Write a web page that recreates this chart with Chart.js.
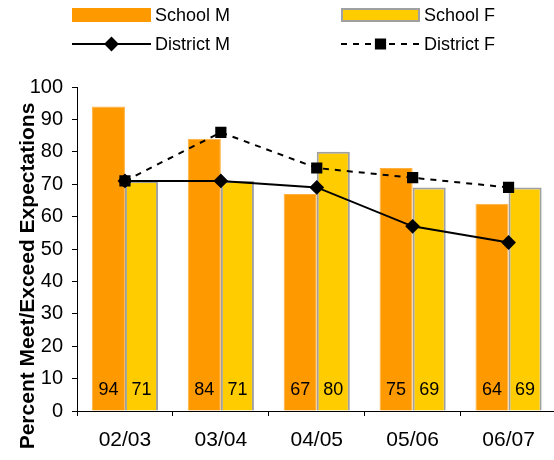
<!DOCTYPE html>
<html>
<head>
<meta charset="utf-8">
<script src="https://cdn.jsdelivr.net/npm/chart.js@4.4.0/dist/chart.umd.min.js"></script>
<style>
  html, body { margin: 0; padding: 0; overflow: hidden; background: #fff; }
  canvas { display: block; }
</style>
</head>
<body>
<canvas id="chart" width="565" height="460"></canvas>
<script>
// ── Data ─────────────────────────────────────────────────────────────────────
const YEARS      = ['02/03', '03/04', '04/05', '05/06', '06/07'];
const SCHOOL_M   = [94, 84, 67, 75, 64];
const SCHOOL_F   = [71, 71, 80, 69, 69];
const DISTRICT_M = [71, 71, 69, 57, 52];
const DISTRICT_F = [71, 86, 75, 72, 69];
const Y_MIN = 0, Y_MAX = 100, Y_STEP = 10;
const Y_TITLE = 'Percent Meet/Exceed Expectations';

const FONT = "'Liberation Sans', Arial, sans-serif";
const ORANGE = '#FF9900';
const YELLOW = '#FFCC00';
const GREY   = '#A0A0A0';

// legend slots: [x, y] of the sample's left edge / vertical centre
const LEGEND_SLOTS = [[72, 15], [341, 15], [72, 44], [341, 44]];

// ── Legend drawn in two fixed columns ────────────────────────────────────────
const legendPlugin = {
  id: 'twoColLegend',
  afterDraw(chart) {
    const ctx = chart.ctx;
    chart.data.datasets.forEach((ds, i) => {
      const [x, y] = LEGEND_SLOTS[i];
      const w = 79;
      ctx.save();
      if (ds.type === 'bar') {
        ctx.fillStyle = ds.backgroundColor;
        ctx.fillRect(x, y - 7, w, 14);
        if (ds.legendBorder) {
          ctx.strokeStyle = ds.borderColor;
          ctx.lineWidth = 2;
          ctx.strokeRect(x + 1, y - 6, w - 2, 12);
        }
      } else {
        ctx.strokeStyle = ds.borderColor;
        ctx.lineWidth = ds.borderWidth;
        ctx.setLineDash(ds.borderDash || []);
        ctx.beginPath();
        ctx.moveTo(x, y);
        ctx.lineTo(x + w, y);
        ctx.stroke();
        ctx.setLineDash([]);
        ctx.fillStyle = ds.pointBackgroundColor;
        ctx.strokeStyle = ds.pointBorderColor;
        Chart.helpers.drawPoint(ctx, { pointStyle: ds.pointStyle, radius: ds.pointRadius, borderWidth: 1, rotation: 0 }, x + w / 2, y);
      }
      ctx.fillStyle = '#000';
      ctx.font = `18px ${FONT}`;
      ctx.textBaseline = 'middle';
      ctx.textAlign = 'left';
      ctx.fillText(ds.label, x + w + 4, y + 1);
      ctx.restore();
    });
  }
};

// ── Value labels at the foot of each bar + rotated y title ──────────────────
const barLabelPlugin = {
  id: 'barLabels',
  afterDatasetsDraw(chart) {
    const ctx = chart.ctx;
    const y0 = chart.scales.y.getPixelForValue(0);
    ctx.save();
    ctx.fillStyle = '#000';
    ctx.font = `18px ${FONT}`;
    ctx.textAlign = 'center';
    ctx.textBaseline = 'middle';
    chart.data.datasets.forEach((ds, i) => {
      if (ds.type !== 'bar') return;
      chart.getDatasetMeta(i).data.forEach((el, j) => {
        ctx.fillText(String(ds.data[j]), el.x, y0 - 21);
      });
    });
    ctx.restore();
  },
  afterDraw(chart) {
    const ctx = chart.ctx;
    ctx.save();
    ctx.translate(28, 276);
    ctx.rotate(-Math.PI / 2);
    ctx.fillStyle = '#000';
    ctx.font = `bold 21px ${FONT}`;
    ctx.textAlign = 'center';
    ctx.textBaseline = 'middle';
    ctx.fillText(Y_TITLE, 0, 0);
    ctx.restore();
  }
};

new Chart(document.getElementById('chart'), {
  data: {
    labels: YEARS,
    datasets: [
      {
        type: 'bar', label: 'School M', data: SCHOOL_M,
        backgroundColor: ORANGE, borderColor: '#FFB040', borderWidth: 1,
        categoryPercentage: 0.69, barPercentage: 1, order: 2,
      },
      {
        type: 'bar', label: 'School F', data: SCHOOL_F,
        backgroundColor: YELLOW, borderColor: GREY, borderWidth: 2, legendBorder: true,
        categoryPercentage: 0.69, barPercentage: 1, order: 2,
      },
      {
        type: 'line', label: 'District M', data: DISTRICT_M,
        borderColor: '#000', borderWidth: 2, tension: 0,
        pointStyle: 'rectRot', pointRadius: 6, pointBackgroundColor: '#000', pointBorderColor: '#000',
        order: 0,
      },
      {
        type: 'line', label: 'District F', data: DISTRICT_F,
        borderColor: '#000', borderWidth: 2, borderDash: [6, 6], tension: 0,
        pointStyle: 'rect', pointRadius: 6.5, pointBackgroundColor: '#000', pointBorderColor: '#000',
        order: 1,
      },
    ],
  },
  options: {
    responsive: false,
    animation: false,
    layout: { padding: { top: 87, right: 1, left: 0, bottom: 0 } },
    plugins: { legend: { display: false }, tooltip: { enabled: false } },
    scales: {
      x: {
        offset: true,
        grid: { offset: true, drawOnChartArea: false, drawTicks: true, tickLength: 5, color: '#000' },
        border: { display: true, color: '#000', width: 1 },
        ticks: { color: '#000', font: { family: FONT, size: 21 }, padding: 12, maxRotation: 0 },
        afterFit(s) { s.height = 49; },
      },
      y: {
        min: Y_MIN, max: Y_MAX,
        grid: { drawOnChartArea: false, drawTicks: true, tickLength: 5, color: '#000' },
        border: { display: true, color: '#000', width: 1 },
        ticks: { stepSize: Y_STEP, color: '#000', font: { family: FONT, size: 20 }, padding: 9 },
        afterFit(s) { s.width = 77; },
      },
    },
  },
  plugins: [legendPlugin, barLabelPlugin],
});
</script>
</body>
</html>
